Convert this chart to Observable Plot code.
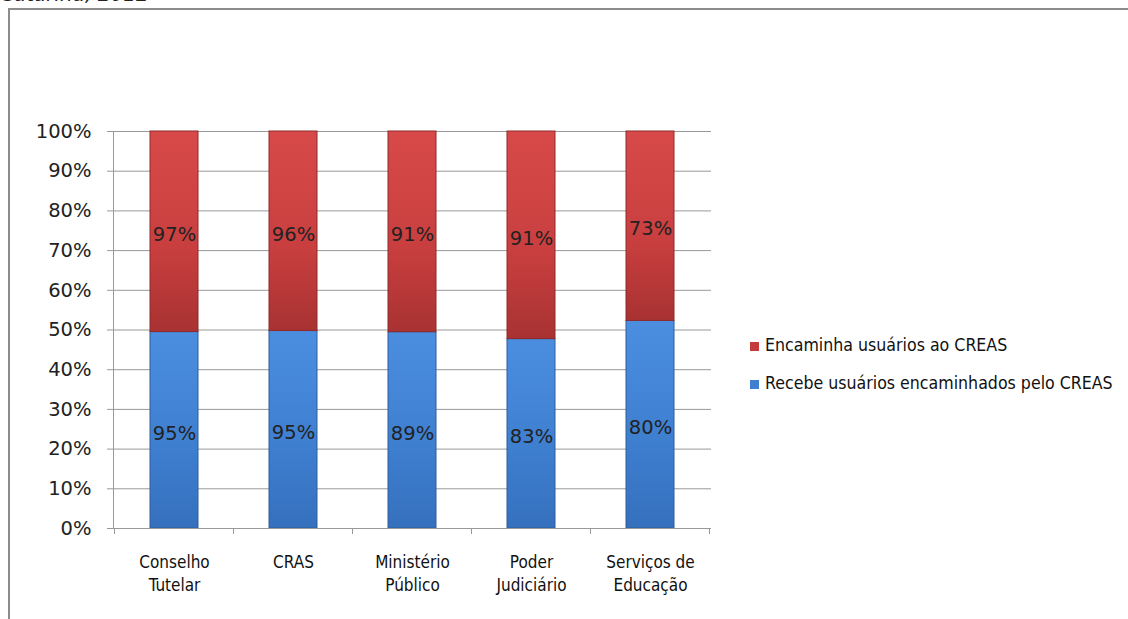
<!DOCTYPE html>
<html>
<head>
<meta charset="utf-8">
<script src="https://cdn.jsdelivr.net/npm/d3@7"></script>
<script src="https://cdn.jsdelivr.net/npm/@observablehq/plot@0.6"></script>
<style>
  html, body { margin: 0; padding: 0; background: #fff; }
  body { width: 1128px; height: 619px; position: relative; overflow: hidden; font-family: "DejaVu Sans", sans-serif; }
  #title { position: absolute; left: 0px; top: -18px; font-size: 20px; font-style: italic; color: #222; white-space: nowrap; }
  #frame { position: absolute; left: 8px; top: 8px; width: 1140px; height: 640px; border-left: 2px solid #8c8c8c; border-top: 2px solid #8c8c8c; }
  #chart { position: absolute; left: 0; top: 0; }
  #legend { position: absolute; left: 750px; top: 332px; font-family: "DejaVu Sans Condensed", "DejaVu Sans", sans-serif; font-size: 17.6px; color: #111; }
  .li { display: flex; align-items: center; height: 26px; margin-bottom: 12px; white-space: nowrap; }
  .sw { width: 9px; height: 9px; margin-right: 6px; margin-top: 2px; }
</style>
</head>
<body>
<div id="title">Catarina, 2012</div>
<div id="frame"></div>
<div id="chart"></div>
<div id="legend"></div>
<script>
const categories = ["Conselho\nTutelar", "CRAS", "Ministério\nPúblico", "Poder\nJudiciário", "Serviços de\nEducação"];
const seriesNames = ["Recebe usuários encaminhados pelo CREAS", "Encaminha usuários ao CREAS"];
const recebe = [95, 95, 89, 83, 80];
const encaminha = [97, 96, 91, 91, 73];
const yTicks = [0, 0.1, 0.2, 0.3, 0.4, 0.5, 0.6, 0.7, 0.8, 0.9, 1];
const fills = ["url(#gBlue)", "url(#gRed)"];
const strokes = ["#2f5f9c", "#8e2a2a"];
const legendColors = ["#3f7fd0", "#c43c3c"];

const data = [];
categories.forEach((c, i) => {
  data.push({cat: c, series: seriesNames[0], value: recebe[i], fill: fills[0], stroke: strokes[0]});
  data.push({cat: c, series: seriesNames[1], value: encaminha[i], fill: fills[1], stroke: strokes[1]});
});

const stackOpts = {offset: "normalize", order: null};

const plot = Plot.plot({
  width: 1128,
  height: 619,
  marginLeft: 113,
  marginRight: 417,
  marginTop: 131,
  marginBottom: 91,
  style: {fontFamily: "DejaVu Sans, sans-serif", background: "transparent"},
  x: {domain: categories, paddingInner: 0.6, paddingOuter: 0.3, label: null},
  y: {domain: [0, 1], label: null},
  color: {type: "identity"},
  marks: [
    Plot.gridY(yTicks, {stroke: "#999", strokeOpacity: 1, strokeWidth: 1}),
    Plot.frame({anchor: "left", stroke: "#999"}),
    Plot.barY(data, Plot.stackY(stackOpts, {x: "cat", y: "value", fill: "fill", stroke: "stroke", strokeWidth: 1})),
    Plot.text(data, Plot.stackY(stackOpts, {x: "cat", y: "value", text: d => d.value + "%", fill: "#222", fontSize: 19.5, dy: 3})),
    Plot.axisY(yTicks, {tickFormat: d => Math.round(d * 100) + "%", tickSize: 6, tickPadding: 16, fontSize: 19.5, stroke: "#999", fill: "#222", label: null}),
    Plot.ruleY([0], {stroke: "#999"}),
    Plot.axisX({tickSize: 0, tickPadding: 23, fontSize: 17, fontFamily: "DejaVu Sans Condensed, DejaVu Sans, sans-serif", fill: "#111", lineHeight: 1.35, label: null})
  ]
});

// gradients
const ns = "http://www.w3.org/2000/svg";
const defs = document.createElementNS(ns, "defs");
defs.innerHTML = `
<linearGradient id="gRed" x1="0" y1="0" x2="0" y2="1">
  <stop offset="0" stop-color="#d84a4a"/>
  <stop offset="0.6" stop-color="#c83e3e"/>
  <stop offset="1" stop-color="#a83232"/>
</linearGradient>
<linearGradient id="gBlue" x1="0" y1="0" x2="0" y2="1">
  <stop offset="0" stop-color="#4b8ee0"/>
  <stop offset="0.6" stop-color="#3e7ecf"/>
  <stop offset="1" stop-color="#3570bd"/>
</linearGradient>`;
plot.insertBefore(defs, plot.firstChild);

// category boundary ticks along the x axis, from the Plot scales
const xs = plot.scale("x");
const ys = plot.scale("y");
const y0 = ys.apply(0);
const step = xs.step;
const first = xs.apply(categories[0]) - (step - xs.bandwidth) / 2;
document.getElementById("chart").appendChild(plot);

const g = document.createElementNS(ns, "g");
g.setAttribute("stroke", "#999");
for (let i = 0; i <= categories.length; i++) {
  const x = first + i * step;
  const l = document.createElementNS(ns, "line");
  l.setAttribute("x1", x); l.setAttribute("x2", x);
  l.setAttribute("y1", y0); l.setAttribute("y2", y0 + 6);
  g.appendChild(l);
}
plot.appendChild(g);

// legend (top series first)
const legend = document.getElementById("legend");
[1, 0].forEach(i => {
  const row = document.createElement("div");
  row.className = "li";
  const sw = document.createElement("div");
  sw.className = "sw";
  sw.style.background = legendColors[i];
  row.appendChild(sw);
  const t = document.createElement("span");
  t.textContent = seriesNames[i];
  row.appendChild(t);
  legend.appendChild(row);
});
</script>
</body>
</html>
